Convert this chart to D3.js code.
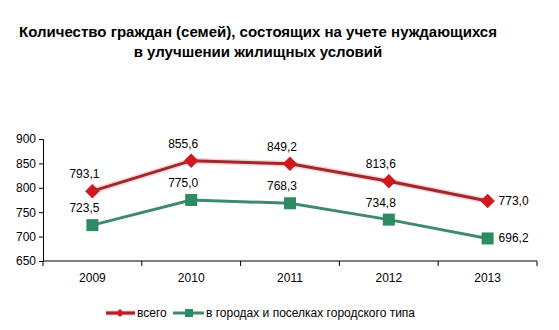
<!DOCTYPE html>
<html><head><meta charset="utf-8">
<script src="https://cdn.jsdelivr.net/npm/d3@7"></script>
<style>body{margin:0;background:#fff}svg{display:block;font-family:"Liberation Sans",Arial,sans-serif}</style>
</head><body><svg id="c" width="559" height="330"></svg>
<script>
const years = ["2009","2010","2011","2012","2013"];
const total = [793.1, 855.6, 849.2, 813.6, 773.0];
const urban = [723.5, 775.0, 768.3, 734.8, 696.2];
const yTicks = [650,700,750,800,850,900];
const seriesNames = ["всего","в городах и поселках городского типа"];
const titleLines = ["Количество граждан (семей), состоящих на учете нуждающихся","в улучшении жилищных условий"];

const svg = d3.select("#c");
const fmt = v => d3.format(".1f")(v).replace(".", ",");

svg.selectAll("text.title").data(titleLines).enter().append("text")
  .attr("x", 258).attr("y", (d,i)=>37+i*20).attr("text-anchor","middle")
  .attr("font-weight","bold").attr("font-size",15).attr("fill","#000").text(d=>d);

const x = d3.scaleBand().domain(years).range([43,537]);
const y = d3.scaleLinear().domain([650,900]).range([261,139]);

const yAxis = svg.append("g").attr("transform","translate(43,0)")
  .call(d3.axisLeft(y).tickValues(yTicks).tickSize(4).tickPadding(3));
yAxis.selectAll("text").attr("font-size",12).attr("font-family","Liberation Sans, Arial").attr("fill","#000");
yAxis.selectAll("line,path").attr("stroke","#000");

const xAxis = svg.append("g").attr("transform","translate(0,261)")
  .call(d3.axisBottom(x).tickSize(0).tickPadding(12));
xAxis.selectAll("text").attr("font-size",12).attr("font-family","Liberation Sans, Arial").attr("fill","#000");
xAxis.select("path").attr("stroke","#000").attr("d","M43,0H537");
// boundary ticks
const bounds = years.map(d=>x(d)).concat([x(years[years.length-1])+x.bandwidth()]);
xAxis.selectAll("line.bt").data(bounds).enter().append("line").attr("class","bt")
  .attr("x1",d=>d).attr("x2",d=>d).attr("y1",0).attr("y2",5).attr("stroke","#000");

const cx = d => x(d)+x.bandwidth()/2;
const line = d3.line().x((d,i)=>cx(years[i])).y(d=>y(d));

// red series
svg.append("path").datum(total).attr("d",line).attr("fill","none")
  .attr("stroke","#f4b8b8").attr("stroke-width",6).attr("stroke-opacity",0.6);
svg.append("path").datum(total).attr("d",line).attr("fill","none")
  .attr("stroke","#a0282c").attr("stroke-width",3);
svg.append("path").datum(urban).attr("d",line).attr("fill","none")
  .attr("stroke","#3f8a6c").attr("stroke-width",3);

svg.selectAll("path.dia").data(total).enter().append("path")
  .attr("transform",(d,i)=>`translate(${cx(years[i])},${y(d)})`)
  .attr("d","M0,-7L7,0L0,7L-7,0Z").attr("fill","#d0191e").attr("stroke","#a0282c").attr("stroke-width",0.5);
svg.selectAll("rect.sq").data(urban).enter().append("rect")
  .attr("x",(d,i)=>cx(years[i])-6).attr("y",d=>y(d)-6).attr("width",12).attr("height",12)
  .attr("fill","#2e8a63");

function labels(data){
  svg.selectAll(null).data(data).enter().append("text")
    .attr("x",(d,i)=> i===data.length-1 ? cx(years[i])+11 : cx(years[i])-8)
    .attr("y",(d,i)=> i===data.length-1 ? y(d)+4 : y(d)-13)
    .attr("text-anchor",(d,i)=> i===data.length-1 ? "start":"middle")
    .attr("font-size",12).attr("fill","#000").text(d=>fmt(d));
}
labels(total); labels(urban);

// legend
const lg = svg.append("g");
lg.append("line").attr("x1",106).attr("x2",135).attr("y1",313).attr("y2",313).attr("stroke","#f4b8b8").attr("stroke-width",5);
lg.append("line").attr("x1",106).attr("x2",135).attr("y1",313).attr("y2",313).attr("stroke","#a0282c").attr("stroke-width",3);
lg.append("path").attr("transform","translate(120,313)").attr("d","M0,-4L4,0L0,4L-4,0Z").attr("fill","#d0191e");
lg.append("text").attr("x",137).attr("y",317).attr("font-size",12).text(seriesNames[0]);
lg.append("line").attr("x1",173).attr("x2",204).attr("y1",313).attr("y2",313).attr("stroke","#3f8a6c").attr("stroke-width",3);
lg.append("rect").attr("x",185).attr("y",309).attr("width",8).attr("height",8).attr("fill","#2e8a63");
lg.append("text").attr("x",206).attr("y",317).attr("font-size",12).text(seriesNames[1]);
</script></body></html>
